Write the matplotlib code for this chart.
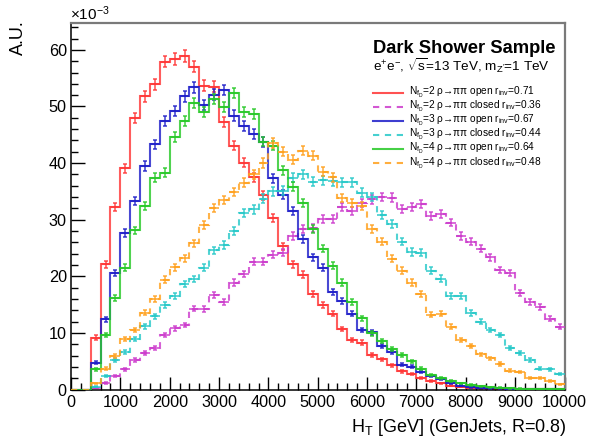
"""Dark shower H_T distributions, normalised histograms with statistical errors."""

import matplotlib
matplotlib.use("Agg")
import matplotlib.pyplot as plt
import numpy as np
from matplotlib.lines import Line2D

plt.rcParams["font.family"] = ["Liberation Sans", "DejaVu Sans"]
plt.rcParams["mathtext.fontset"] = "custom"
plt.rcParams["mathtext.rm"] = "Liberation Sans"
plt.rcParams["mathtext.it"] = "Liberation Sans:italic"
plt.rcParams["mathtext.bf"] = "Liberation Sans:bold"
plt.rcParams["mathtext.default"] = "regular"

W, H = 606, 441

# H_T binning in GeV (50 bins of 200 GeV)
ht_edges = np.linspace(0, 10000, 51)

# bin contents, normalised to unit area, in units of 1e-3
nf2_open = [0, 0, 9.15, 22.1, 32.3, 39.1, 48.0, 51.8, 53.9, 57.9,
            58.4, 58.9, 57.0, 53.7, 53.5, 47.3, 43.1, 40.1, 37.5, 34.3,
            30.3, 25.3, 22.1, 20.3, 16.9, 14.9, 13.4, 10.7, 8.7, 8.3,
            6.1, 5.3, 4.3, 3.2, 2.7, 2.1, 1.5, 1.1, 0.7, 0.5,
            0.3, 0.2, 0.15, 0.1, 0.1, 0.05, 0.05, 0.03, 0.02, 0.02]
nf2_closed = [0, 0, 0.3, 1.2, 2.4, 3.6, 5.2, 6.4, 7.4, 9.6,
              10.8, 11.4, 14.3, 14.2, 16.7, 15.5, 18.9, 20.4, 22.6, 22.6,
              23.8, 24.2, 27.1, 28.4, 28.6, 30.1, 30.1, 32.2, 31.6, 33.0,
              33.6, 34.0, 33.9, 31.9, 32.2, 32.8, 30.6, 31.0, 29.5, 27.1,
              26.1, 24.9, 23.4, 21.1, 20.6, 17.1, 15.4, 14.6, 12.5, 11.1]
nf3_open = [0, 0, 4.7, 12.4, 20.6, 27.6, 33.3, 39.5, 43.3, 47.4,
            49.2, 51.8, 53.4, 50.3, 52.1, 52.9, 48.4, 46.6, 45.2, 43.7,
            37.3, 34.4, 31.5, 26.6, 23.4, 21.5, 17.2, 15.6, 13.4, 10.5,
            10.1, 7.6, 6.6, 4.4, 4.0, 3.1, 2.4, 1.8, 1.1, 0.7,
            0.4, 0.3, 0.2, 0.2, 0.1, 0.1, 0.05, 0.05, 0.05, 0.0]
nf3_closed = [0, 0, 0.5, 2.4, 5.2, 6.6, 8.9, 11.2, 12.9, 14.9,
              16.6, 18.6, 19.5, 21.5, 24.6, 25.5, 28.0, 31.2, 31.8, 33.7,
              35.0, 35.1, 37.4, 38.0, 36.7, 37.0, 36.8, 36.6, 36.6, 34.8,
              34.0, 30.8, 29.3, 26.1, 24.3, 24.2, 21.0, 19.6, 16.6, 16.6,
              13.5, 12.0, 10.5, 9.6, 7.4, 6.4, 5.2, 3.7, 3.6, 2.7]
nf4_open = [0, 0, 3.6, 9.6, 16.1, 21.5, 28.1, 32.4, 37.4, 38.3,
            44.6, 47.4, 50.6, 49.0, 51.3, 49.9, 52.4, 49.0, 48.6, 43.8,
            43.1, 38.7, 35.8, 33.0, 28.3, 24.9, 21.9, 18.9, 15.5, 12.6,
            9.9, 8.6, 7.1, 6.1, 5.0, 3.7, 2.6, 2.0, 1.5, 1.1,
            0.8, 0.6, 0.4, 0.3, 0.2, 0.15, 0.1, 0.1, 0.05, 0.05]
nf4_closed = [0, 0, 1.1, 3.7, 5.9, 8.9, 10.5, 13.6, 16.0, 19.4,
              21.6, 23.2, 25.8, 29.0, 32.1, 33.5, 34.9, 36.5, 38.0, 40.0,
              43.5, 42.0, 40.6, 42.2, 41.3, 38.5, 37.5, 33.8, 32.9, 32.4,
              28.4, 26.1, 23.1, 21.0, 18.9, 16.9, 13.2, 13.4, 11.1, 8.7,
              7.7, 6.2, 5.5, 4.5, 3.3, 3.1, 2.0, 2.0, 1.5, 0.9]

labels = [
    r"N$_{f_{D}}$=2 ρ→ππ open r$_{inv}$=0.71",
    r"N$_{f_{D}}$=2 ρ→ππ closed r$_{inv}$=0.36",
    r"N$_{f_{D}}$=3 ρ→ππ open r$_{inv}$=0.67",
    r"N$_{f_{D}}$=3 ρ→ππ closed r$_{inv}$=0.44",
    r"N$_{f_{D}}$=4 ρ→ππ open r$_{inv}$=0.64",
    r"N$_{f_{D}}$=4 ρ→ππ closed r$_{inv}$=0.48",
]
samples = [nf2_open, nf2_closed, nf3_open, nf3_closed, nf4_open, nf4_closed]
colors = ["#ff3434", "#cc3acc", "#1c1cc8", "#26c8c8", "#26c826", "#ffa01c"]
dashed = (0, (3.0, 2.7))
styles = ["-", dashed, "-", dashed, "-", dashed]

# generated events per sample, sets the size of the statistical errors
n_events = 60000


def px(x, y):
    """Pixel position (from top-left) to figure fraction."""
    return x / W, 1 - y / H


fig = plt.figure(figsize=(W / 100, H / 100), dpi=100)
ax_l, ax_r, ax_t, ax_b = 71, 564.5, 22.7, 389.5
ax = fig.add_axes([ax_l / W, 1 - ax_b / H, (ax_r - ax_l) / W, (ax_b - ax_t) / H])

centers = 0.5 * (ht_edges[1:] + ht_edges[:-1])
half_w = 0.5 * np.diff(ht_edges)

for i, (vals, col, ls) in enumerate(zip(samples, colors, styles)):
    vals = np.asarray(vals, dtype=float)
    err = np.sqrt(vals * 1e-3 / n_events) * 1e3
    z = 2 + i
    ax.stairs(vals, ht_edges, baseline=None, color=col, lw=1.5, ls=ls,
              alpha=0.8, zorder=z)
    nz = vals > 0.04
    ax.errorbar(centers[nz], vals[nz], xerr=half_w[nz], fmt="none",
                ecolor=col, elinewidth=1.3, capsize=0, alpha=0.8, zorder=z)
    ax.errorbar(centers[nz], vals[nz], yerr=err[nz], fmt="none",
                ecolor=col, elinewidth=1.2, capsize=1.7, capthick=1.2,
                alpha=0.8, zorder=z)

ax.set_xlim(0, 10000)
ax.set_ylim(0, 64.8)
ax.set_xticks(np.arange(0, 10001, 1000))
ax.set_xticks(np.arange(0, 10001, 200), minor=True)
ax.set_yticks(np.arange(0, 61, 10))
ax.set_yticks(np.arange(0, 65, 2), minor=True)
ax.tick_params(axis="both", which="both", direction="in", width=1.0,
               labelsize=11.7, top=False, right=False)
ax.tick_params(axis="y", which="major", length=10, pad=3)
ax.tick_params(axis="y", which="minor", length=4.7)
ax.tick_params(axis="x", which="major", length=9.2, pad=4)
ax.tick_params(axis="x", which="minor", length=4.7)

for side in ("left", "bottom"):
    ax.spines[side].set_color("black")
    ax.spines[side].set_linewidth(1.1)
for side in ("top", "right"):
    ax.spines[side].set_color("#7a7a7a")
    ax.spines[side].set_linewidth(1.6)

# axis titles
fig.text(*px(567, 432), r"H$_{T}$ [GeV] (GenJets, R=0.8)",
         ha="right", va="baseline", fontsize=13)
fig.text(*px(18, 20), "A.U.", rotation=90, ha="center", va="top", fontsize=13)
fig.text(*px(70, 20), r"×10$^{-3}$", ha="left", va="baseline", fontsize=11)

# header
fig.text(*px(373, 53), "Dark Shower Sample", ha="left", va="baseline",
         fontsize=13.2, fontweight="bold")
fig.text(*px(373, 70.7), r"e$^{+}$e$^{-}$, $\sqrt{s}$=13 TeV, m$_{Z'}$=1 TeV",
         ha="left", va="baseline", fontsize=9.7)

# legend
for i, (lab, col, ls) in enumerate(zip(labels, colors, styles)):
    y = 92.5 + 14.1 * i
    (x0, y0), (x1, _) = px(373, y), px(403, y)
    fig.add_artist(Line2D([x0, x1], [y0, y0], color=col, lw=1.5, ls=ls,
                          alpha=0.85, transform=fig.transFigure))
    fig.text(*px(409, y), lab, ha="left", va="center", fontsize=7.3)

fig.savefig("out.png", dpi=100)
